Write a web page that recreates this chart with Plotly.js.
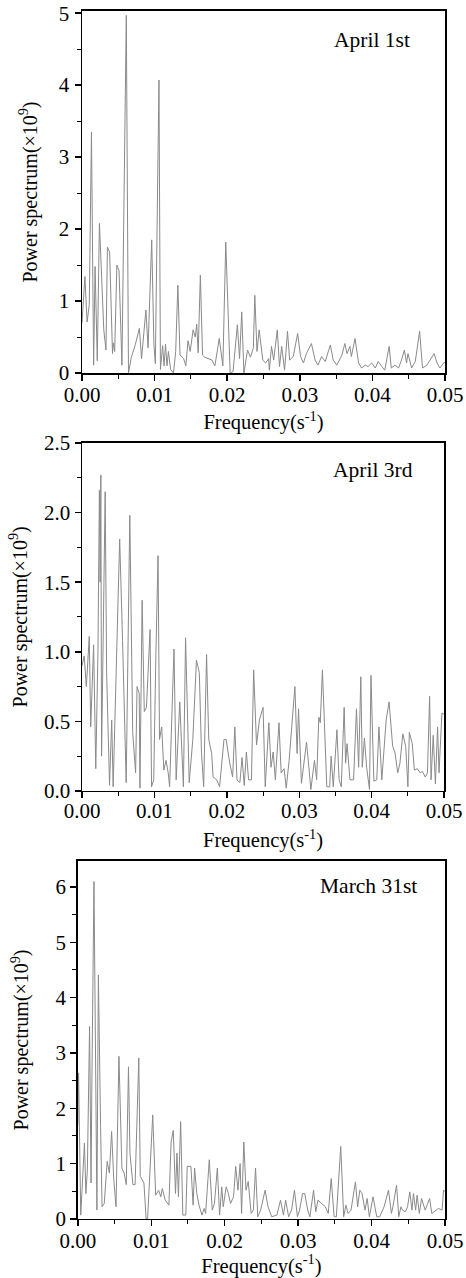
<!DOCTYPE html>
<html>
<head>
<meta charset="utf-8">
<script src="https://cdn.plot.ly/plotly-3.0.1.min.js"></script>
<style>html,body{margin:0;padding:0;background:#fff;}#chart{width:466px;height:1278px;}</style>
</head>
<body>
<div id="chart"></div>
<script>
// Panel labels
const panelLabels = ["April 1st", "April 3rd", "March 31st"];
const xTitle = "Frequency(s<sup>-1</sup>)";
const yTitle = "Power spectrum(×10<sup>9</sup>)";

// April 1st
const f1 = [0.0000,0.0002,0.0004,0.0007,0.0010,0.0013,0.0016,0.0018,0.0021,0.0024,0.0027,0.0030,0.0033,0.0035,0.0038,0.0040,0.0042,0.0043,0.0045,0.0048,0.0051,0.0055,0.0061,0.0064,0.0068,0.0073,0.0079,0.0082,0.0084,0.0088,0.0091,0.0096,0.0099,0.0101,0.0106,0.0108,0.0111,0.0113,0.0115,0.0117,0.0119,0.0122,0.0126,0.0129,0.0132,0.0135,0.0140,0.0143,0.0146,0.0149,0.0153,0.0156,0.0158,0.0160,0.0163,0.0166,0.0169,0.0174,0.0179,0.0183,0.0189,0.0194,0.0198,0.0204,0.0208,0.0214,0.0217,0.0220,0.0223,0.0228,0.0232,0.0236,0.0238,0.0241,0.0244,0.0249,0.0253,0.0257,0.0258,0.0261,0.0264,0.0269,0.0272,0.0275,0.0279,0.0283,0.0286,0.0291,0.0297,0.0301,0.0305,0.0309,0.0316,0.0321,0.0325,0.0330,0.0335,0.0342,0.0346,0.0351,0.0358,0.0362,0.0365,0.0369,0.0371,0.0376,0.0381,0.0385,0.0390,0.0394,0.0399,0.0404,0.0408,0.0413,0.0417,0.0423,0.0426,0.0431,0.0436,0.0440,0.0444,0.0447,0.0449,0.0454,0.0459,0.0465,0.0469,0.0475,0.0479,0.0485,0.0489,0.0493,0.0498,0.0500];
const p1 = [0.70,1.00,1.34,0.71,0.95,3.35,0.11,1.48,0.17,2.08,1.30,0.60,0.32,1.75,1.68,0.80,0.27,0.42,0.30,1.50,1.42,0.11,4.97,0.00,0.22,0.38,0.62,0.20,0.40,0.875,0.35,1.85,0.40,0.13,4.07,0.05,0.38,0.10,0.40,0.10,0.30,0.05,0.00,0.30,1.22,0.25,0.20,0.10,0.45,0.30,0.60,0.50,0.68,0.28,1.36,0.25,0.22,0.20,0.18,0.10,0.48,0.10,1.82,0.00,0.02,0.67,0.20,0.85,0.00,0.32,0.22,0.35,1.08,0.30,0.60,0.18,0.14,0.20,0.04,0.37,0.18,0.60,0.09,0.37,0.04,0.58,0.18,0.23,0.55,0.23,0.14,0.27,0.41,0.18,0.11,0.23,0.16,0.39,0.18,0.11,0.25,0.41,0.27,0.37,0.23,0.48,0.14,0.07,0.11,0.09,0.14,0.07,0.16,0.09,0.04,0.37,0.07,0.11,0.07,0.18,0.32,0.14,0.27,0.07,0.16,0.58,0.07,0.11,0.18,0.27,0.14,0.07,0.14,0.15];

// April 3rd
const f2 = [0.0000,0.0003,0.0006,0.0010,0.0012,0.0016,0.0019,0.0022,0.0024,0.0025,0.0026,0.0027,0.0032,0.0034,0.0038,0.0041,0.0043,0.0048,0.0052,0.0056,0.0061,0.0066,0.0070,0.0074,0.0076,0.0079,0.0080,0.0083,0.0086,0.0089,0.0094,0.0096,0.0099,0.0102,0.0105,0.0107,0.0110,0.0113,0.0116,0.0119,0.0121,0.0127,0.0130,0.0135,0.0140,0.0143,0.0148,0.0153,0.0158,0.0162,0.0165,0.0168,0.0172,0.0175,0.0179,0.0181,0.0186,0.0190,0.0196,0.0199,0.0204,0.0208,0.0211,0.0214,0.0218,0.0221,0.0224,0.0227,0.0230,0.0234,0.0237,0.0241,0.0245,0.0250,0.0253,0.0258,0.0261,0.0264,0.0267,0.0272,0.0275,0.0279,0.0282,0.0286,0.0294,0.0297,0.0299,0.0303,0.0306,0.0310,0.0314,0.0316,0.0321,0.0324,0.0327,0.0329,0.0332,0.0335,0.0338,0.0342,0.0344,0.0347,0.0352,0.0355,0.0358,0.0362,0.0364,0.0366,0.0370,0.0375,0.0379,0.0382,0.0385,0.0387,0.0390,0.0393,0.0397,0.0399,0.0403,0.0407,0.0410,0.0414,0.0420,0.0424,0.0429,0.0432,0.0436,0.0439,0.0443,0.0447,0.0450,0.0452,0.0456,0.0459,0.0463,0.0467,0.0470,0.0474,0.0477,0.0480,0.0482,0.0485,0.0488,0.0491,0.0493,0.0497,0.0500];
const p2 = [0.90,0.97,0.75,1.11,0.46,1.05,0.16,1.00,2.16,1.50,2.27,0.25,2.15,0.85,0.04,0.51,0.03,1.08,1.81,1.08,0.06,1.98,0.42,0.13,0.75,0.70,0.02,1.37,0.57,0.60,1.16,0.03,0.08,0.98,1.69,0.37,0.46,0.15,0.22,0.13,0.03,1.02,0.08,0.64,0.03,1.10,0.06,0.37,0.94,0.85,0.27,0.03,0.98,0.37,0.27,0.10,0.08,0.03,0.37,0.37,0.20,0.10,0.46,0.08,0.06,0.24,0.04,0.28,0.08,0.08,0.87,0.33,0.51,0.60,0.03,0.49,0.17,0.28,0.08,0.49,0.13,0.16,0.02,0.22,0.75,0.27,0.59,0.055,0.17,0.35,0.13,0.01,0.22,0.08,0.53,0.49,0.87,0.39,0.03,0.03,0.25,0.03,0.44,0.08,0.03,0.60,0.20,0.34,0.08,0.08,0.59,0.17,0.82,0.17,0.38,0.17,0.01,0.83,0.07,0.08,0.46,0.08,0.51,0.64,0.32,0.28,0.13,0.20,0.41,0.32,0.03,0.42,0.34,0.15,0.16,0.13,0.14,0.10,0.13,0.68,0.08,0.40,0.05,0.46,0.13,0.56,0.55];

// March 31st
const f3 = [0.0000,0.0001,0.0004,0.0009,0.0011,0.0013,0.0016,0.0018,0.0019,0.0022,0.0026,0.0028,0.0031,0.0033,0.0036,0.0040,0.0043,0.0046,0.0049,0.0052,0.0056,0.0060,0.0063,0.0066,0.0069,0.0071,0.0075,0.0078,0.0083,0.0085,0.0090,0.0093,0.0095,0.0102,0.0106,0.0110,0.0113,0.0115,0.0119,0.0124,0.0127,0.0130,0.0133,0.0135,0.0137,0.0140,0.0143,0.0147,0.0149,0.0154,0.0157,0.0159,0.0162,0.0165,0.0169,0.0172,0.0174,0.0179,0.0183,0.0186,0.0190,0.0193,0.0196,0.0198,0.0202,0.0205,0.0208,0.0212,0.0215,0.0218,0.0221,0.0223,0.0226,0.0229,0.0232,0.0236,0.0239,0.0242,0.0245,0.0249,0.0255,0.0259,0.0264,0.0271,0.0276,0.0280,0.0283,0.0287,0.0291,0.0295,0.0299,0.0302,0.0306,0.0309,0.0313,0.0316,0.0321,0.0324,0.0327,0.0332,0.0337,0.0341,0.0345,0.0349,0.0352,0.0358,0.0362,0.0365,0.0368,0.0372,0.0378,0.0381,0.0384,0.0387,0.0391,0.0394,0.0397,0.0402,0.0407,0.0411,0.0417,0.0423,0.0427,0.0429,0.0434,0.0437,0.0440,0.0442,0.0446,0.0449,0.0452,0.0455,0.0457,0.0460,0.0462,0.0465,0.0468,0.0473,0.0479,0.0482,0.0487,0.0491,0.0496,0.0498,0.0500];
const p3 = [1.70,2.64,0.07,1.37,0.46,0.89,3.48,0.65,2.27,6.10,0.16,4.41,1.67,0.22,0.28,1.04,0.83,1.58,0.71,0.22,2.94,0.92,0.83,0.62,2.75,1.19,0.62,0.62,2.91,0.77,0.65,0.00,0.00,1.88,0.43,0.52,0.40,0.55,0.34,0.25,1.39,1.60,0.46,1.19,0.40,1.76,0.07,0.07,0.95,0.95,0.25,0.92,0.46,0.25,0.07,0.19,0.10,1.07,0.16,0.28,0.92,0.07,0.58,0.22,0.58,0.46,0.28,0.40,0.95,0.52,1.00,0.10,1.39,0.52,0.68,0.10,0.16,0.92,0.04,0.16,0.52,0.22,0.04,0.07,0.34,0.07,0.34,0.04,0.16,0.52,0.04,0.16,0.46,0.46,0.16,0.04,0.52,0.13,0.34,0.28,0.22,0.10,0.73,0.04,0.04,1.31,0.04,0.25,0.10,0.16,0.67,0.22,0.52,0.46,0.16,0.37,0.04,0.40,0.04,0.04,0.22,0.52,0.10,0.22,0.61,0.04,0.22,0.16,0.13,0.22,0.49,0.16,0.46,0.16,0.43,0.10,0.37,0.16,0.37,0.10,0.16,0.19,0.16,0.52,0.50];

const xTickVals = [0, 0.01, 0.02, 0.03, 0.04, 0.05];
const xTickText = ["0.00", "0.01", "0.02", "0.03", "0.04", "0.05"];

const FONT = "Liberation Serif, Times New Roman, serif";
const lineStyle = {color: "#8a8a8a", width: 1};

const traces = [
  {x: f1, y: p1, xaxis: "x", yaxis: "y", type: "scatter", mode: "lines", line: lineStyle, hoverinfo: "skip"},
  {x: f2, y: p2, xaxis: "x2", yaxis: "y2", type: "scatter", mode: "lines", line: lineStyle, hoverinfo: "skip"},
  {x: f3, y: p3, xaxis: "x3", yaxis: "y3", type: "scatter", mode: "lines", line: lineStyle, hoverinfo: "skip"}
];

function xAx(dom, anchor, labelShift, titleStandoff) {
  return {
    domain: dom, anchor: anchor, range: [0, 0.05],
    tickvals: xTickVals, ticktext: xTickText,
    showline: true, linecolor: "#000", linewidth: 1.5, mirror: true,
    ticks: "outside", ticklen: 6, tickwidth: 1.5, tickcolor: "#000",
    ticklabelstandoff: labelShift,
    minor: {ticks: "outside", ticklen: 4, tickwidth: 1, tickcolor: "#000", dtick: 0.005, tick0: 0, showgrid: false},
    showgrid: false, zeroline: false,
    tickfont: {family: FONT, size: 21, color: "#000"},
    title: {text: xTitle, font: {family: FONT, size: 20.5, color: "#000"}, standoff: titleStandoff}
  };
}
function yAx(dom, anchor, range, dtick, minorDtick, fmt, labelShift, titleStandoff) {
  return {
    domain: dom, anchor: anchor, range: range,
    dtick: dtick, tick0: 0, tickformat: fmt,
    showline: true, linecolor: "#000", linewidth: 1.5, mirror: true,
    ticks: "outside", ticklen: 6, tickwidth: 1.5, tickcolor: "#000",
    ticklabelstandoff: labelShift,
    minor: {ticks: "outside", ticklen: 4, tickwidth: 1, tickcolor: "#000", dtick: minorDtick, tick0: 0, showgrid: false},
    showgrid: false, zeroline: false,
    tickfont: {family: FONT, size: 21, color: "#000"},
    title: {text: yTitle, font: {family: FONT, size: 20, color: "#000"}, standoff: titleStandoff}
  };
}

const annFont = {family: FONT, size: 21.5, color: "#000"};

const layout = {
  width: 466, height: 1278,
  margin: {l: 0, r: 0, t: 0, b: 0},
  paper_bgcolor: "#fff", plot_bgcolor: "#fff",
  showlegend: false,
  xaxis: xAx([0.176, 0.955], "y", -4, 9),
  yaxis: yAx([0.7081, 0.9914], "x", [0, 5.03], 1, 0.5, "d", 1, 16),
  xaxis2: xAx([0.176, 0.953], "y2", -6, 11),
  yaxis2: yAx([0.3811, 0.6534], "x2", [0, 2.5], 0.5, 0.25, ".1f", 0, 11),
  xaxis3: xAx([0.167, 0.955], "y3", -4, 18),
  yaxis3: yAx([0.0462, 0.3263], "x3", [0, 6.47], 1, 0.5, "d", 0, 21),
  annotations: [
    {text: panelLabels[0], xref: "paper", yref: "paper", x: 0.798, y: 0.9687, xanchor: "center", yanchor: "middle", showarrow: false, font: annFont},
    {text: panelLabels[1], xref: "paper", yref: "paper", x: 0.8004, y: 0.6322, xanchor: "center", yanchor: "middle", showarrow: false, font: annFont},
    {text: panelLabels[2], xref: "paper", yref: "paper", x: 0.7918, y: 0.3067, xanchor: "center", yanchor: "middle", showarrow: false, font: annFont}
  ]
};

Plotly.newPlot("chart", traces, layout, {staticPlot: true, displayModeBar: false});
</script>
</body>
</html>
